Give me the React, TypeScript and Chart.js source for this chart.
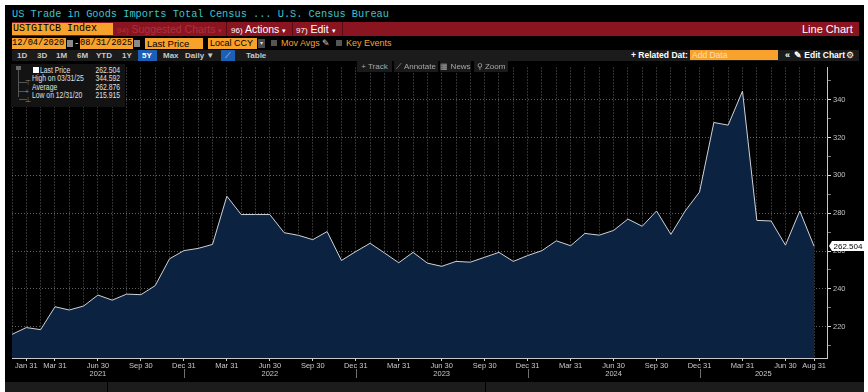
import React, { useEffect, useRef } from 'react';
import { Chart, registerables } from 'chart.js';

Chart.register(...registerables);

// ---------- data ----------
const categories = [
  '2020-12-31',
  '2021-01-31', '2021-02-28', '2021-03-31', '2021-04-30', '2021-05-31', '2021-06-30',
  '2021-07-31', '2021-08-31', '2021-09-30', '2021-10-31', '2021-11-30', '2021-12-31',
  '2022-01-31', '2022-02-28', '2022-03-31', '2022-04-30', '2022-05-31', '2022-06-30',
  '2022-07-31', '2022-08-31', '2022-09-30', '2022-10-31', '2022-11-30', '2022-12-31',
  '2023-01-31', '2023-02-28', '2023-03-31', '2023-04-30', '2023-05-31', '2023-06-30',
  '2023-07-31', '2023-08-31', '2023-09-30', '2023-10-31', '2023-11-30', '2023-12-31',
  '2024-01-31', '2024-02-29', '2024-03-31', '2024-04-30', '2024-05-31', '2024-06-30',
  '2024-07-31', '2024-08-31', '2024-09-30', '2024-10-31', '2024-11-30', '2024-12-31',
  '2025-01-31', '2025-02-28', '2025-03-31', '2025-04-30', '2025-05-31', '2025-06-30',
  '2025-07-31', '2025-08-31',
];

const importValues = [
  215.915,
  219.5, 218.4, 230.5, 228.8, 230.9, 236.7, 234.0, 237.2, 236.9, 241.7, 255.9, 260.2,
  261.4, 263.5, 289.0, 279.3, 279.3, 279.3, 269.7, 268.3, 266.0, 270.3, 255.0, 259.7,
  264.1, 259.0, 253.8, 259.3, 253.6, 251.9, 254.5, 254.1, 256.7, 259.3, 254.5, 257.6,
  260.2, 265.4, 262.8, 269.3, 268.4, 270.9, 276.9, 273.1, 281.2, 268.8, 281.2, 291.2,
  328.0, 326.6, 344.592, 276.2, 275.9, 263.1, 281.2, 262.504,
];

const xTickIndex = [1, 3, 6, 9, 12, 15, 18, 21, 24, 27, 30, 33, 36, 39, 42, 45, 48, 51, 54, 56];
const xTickText = [
  'Jan 31', 'Mar 31', 'Jun 30', 'Sep 30', 'Dec 31',
  'Mar 31', 'Jun 30', 'Sep 30', 'Dec 31',
  'Mar 31', 'Jun 30', 'Sep 30', 'Dec 31',
  'Mar 31', 'Jun 30', 'Sep 30', 'Dec 31',
  'Mar 31', 'Jun 30', 'Aug 31',
];
const yearLabels = ['2021', '2022', '2023', '2024', '2025'];
const yearBoundaryIndex = [12, 24, 36, 48];

const yTicks = [210, 220, 230, 240, 250, 260, 270, 280, 290, 300, 310, 320, 330, 340, 350];
const yLabelTicks = [220, 240, 260, 280, 300, 320, 340];
const yMin = 203.4;
const yMax = 357.1;
const xMaxPad = 56.9;

const legendRows = [
  { label: 'Last Price', value: '262.504' },
  { label: 'High on 03/31/25', value: '344.592' },
  { label: 'Average', value: '262.876' },
  { label: 'Low on 12/31/20', value: '215.915' },
];

// ---------- styling constants ----------
const ORANGE = '#f8a12b';
const AXIS_FONT = '"Liberation Sans", Arial, sans-serif';
const GRID = 'rgba(165,165,165,0.6)';

const axisExtras = {
  id: 'axisExtras',
  afterDraw(chart: any) {
    const { ctx, chartArea } = chart;
    const x = chart.scales.x;
    const y = chart.scales.y;
    ctx.save();
    ctx.strokeStyle = '#707070';
    ctx.lineWidth = 1;
    yearBoundaryIndex.forEach((i) => {
      const px = Math.round(x.getPixelForValue(i)) + 0.5;
      ctx.beginPath();
      ctx.moveTo(px, chartArea.bottom + 11);
      ctx.lineTo(px, chartArea.bottom + 20);
      ctx.stroke();
    });
    ctx.font = `7.5px ${AXIS_FONT}`;
    ctx.fillStyle = '#c8c8c8';
    ctx.textAlign = 'center';
    ctx.textBaseline = 'middle';
    const edges = [x.min, ...yearBoundaryIndex, x.max];
    yearLabels.forEach((lab, k) => {
      const c = (x.getPixelForValue(edges[k]) + x.getPixelForValue(edges[k + 1])) / 2;
      ctx.fillText(lab, c, chartArea.bottom + 15.5);
    });
    const last = importValues[importValues.length - 1];
    const py = Math.round(y.getPixelForValue(last));
    const txt = last.toFixed(3);
    ctx.font = `8px ${AXIS_FONT}`;
    const tw = ctx.measureText(txt).width;
    const bx = chartArea.right + 4;
    ctx.fillStyle = '#ffffff';
    ctx.beginPath();
    ctx.moveTo(bx - 2, py);
    ctx.lineTo(bx + 1, py - 5);
    ctx.lineTo(bx + tw + 5, py - 5);
    ctx.lineTo(bx + tw + 5, py + 5);
    ctx.lineTo(bx + 1, py + 5);
    ctx.closePath();
    ctx.fill();
    ctx.fillStyle = '#000000';
    ctx.textAlign = 'left';
    ctx.fillText(txt, bx + 2.5, py + 0.5);
    ctx.restore();
  },
};

function ChartCanvas() {
  const ref = useRef<HTMLCanvasElement | null>(null);
  useEffect(() => {
    if (!ref.current) return;
    const points = importValues.map((v, i) => ({ x: i, y: v }));
    const chart = new Chart(ref.current, {
      type: 'line',
      data: {
        datasets: [
          {
            data: points,
            borderColor: '#cfd2d6',
            borderWidth: 1,
            backgroundColor: '#0b2241',
            fill: 'start',
            pointRadius: 0,
            tension: 0,
          },
        ],
      },
      options: {
        animation: false,
        responsive: false,
        maintainAspectRatio: false,
        layout: { padding: { left: 7, top: 0, right: 0, bottom: 0 } },
        plugins: { legend: { display: false }, tooltip: { enabled: false } },
        scales: {
          x: {
            type: 'linear',
            min: 0,
            max: xMaxPad,
            z: 1,
            afterBuildTicks: (scale: any) => {
              scale.ticks = categories.map((_, i) => ({ value: i }));
            },
            afterFit: (scale: any) => {
              scale.height = 24;
            },
            grid: {
              color: GRID,
              lineWidth: 1,
              drawTicks: true,
              tickLength: 3,
              tickColor: (c: any) => (xTickIndex.includes(c.tick?.value) ? '#d0d0d0' : 'rgba(0,0,0,0)'),
            },
            border: { display: true, color: '#c8c8c8', width: 1, dash: [1, 2] },
            ticks: {
              autoSkip: false,
              maxRotation: 0,
              minRotation: 0,
              padding: 0,
              color: '#c8c8c8',
              font: { family: AXIS_FONT, size: 7.5 },
              callback: (v: any) => {
                const k = xTickIndex.indexOf(Number(v));
                return k >= 0 ? xTickText[k] : '';
              },
            },
          },
          y: {
            type: 'linear',
            position: 'right',
            min: yMin,
            max: yMax,
            z: 1,
            afterBuildTicks: (scale: any) => {
              scale.ticks = yTicks.map((v) => ({ value: v }));
            },
            afterFit: (scale: any) => {
              scale.width = 37;
            },
            grid: {
              color: (c: any) => (yLabelTicks.includes(c.tick?.value) ? GRID : 'rgba(0,0,0,0)'),
              lineWidth: 1,
              tickLength: 4,
              tickColor: (c: any) => (yLabelTicks.includes(c.tick?.value) ? '#e0e0e0' : '#7a7a7a'),
            },
            border: { display: true, color: '#c8c8c8', width: 1, dash: [1, 2] },
            ticks: {
              padding: 2,
              color: '#c0c0c0',
              font: { family: AXIS_FONT, size: 7.5 },
              callback: (v: any) => (yLabelTicks.includes(Number(v)) ? String(v) : ''),
            },
          },
        },
      } as any,
      plugins: [axisExtras],
    });
    return () => chart.destroy();
  }, []);
  return (
    <canvas
      ref={ref}
      width={859}
      height={321}
      style={{ position: 'absolute', left: 5, top: 61, width: 859, height: 321, display: 'block' }}
    />
  );
}

const abs = (left: number, top: number, extra: React.CSSProperties = {}): React.CSSProperties => ({
  position: 'absolute',
  left,
  top,
  whiteSpace: 'nowrap',
  ...extra,
});

const SANS = '"Liberation Sans", Arial, sans-serif';
const MONO = '"Liberation Mono", "DejaVu Sans Mono", monospace';

export default function App() {
  const rangeBtns: [string, number][] = [
    ['1D', 17], ['3D', 37], ['1M', 56], ['6M', 77], ['YTD', 96], ['1Y', 122], ['Max', 163], ['Daily ▼', 185], ['Table', 246],
  ];
  return (
    <div style={{ position: 'fixed', left: 0, top: 0, width: 868, height: 392, background: '#ffffff', overflow: 'hidden' }}>
      <div style={{ position: 'absolute', left: 5, top: 5, width: 859, height: 387, background: '#000000' }} />
      {/* title */}
      <div style={abs(12, 8, { font: `10.3px ${MONO}`, color: '#3cc3cf', lineHeight: '12px' })}>
        US Trade in Goods Imports Total Census ... U.S. Census Bureau
      </div>
      {/* red bar */}
      <div style={abs(12, 22, { width: 847, height: 14, background: '#8b1421' })} />
      <div style={abs(12, 23, { width: 101, height: 12, background: ORANGE, font: `10px ${MONO}`, color: '#000', lineHeight: '12px', paddingLeft: 1, boxSizing: 'border-box' })}>
        USTGITCB Index
      </div>
      <div style={abs(117, 23, { font: `10.5px ${SANS}`, color: '#b0303c', lineHeight: '12px' })}>
        <span style={{ fontSize: 8 }}>94)</span> Suggested Charts <span style={{ fontSize: 7 }}>▾</span>
      </div>
      <div style={abs(226, 22, { width: 1, height: 14, background: '#5a0c16' })} />
      <div style={abs(231, 23, { font: `10.5px ${SANS}`, color: '#ffffff', lineHeight: '12px' })}>
        <span style={{ fontSize: 8 }}>96)</span> Actions <span style={{ fontSize: 7 }}>▾</span>
      </div>
      <div style={abs(292, 22, { width: 1, height: 14, background: '#5a0c16' })} />
      <div style={abs(296, 23, { font: `10.5px ${SANS}`, color: '#ffffff', lineHeight: '12px' })}>
        <span style={{ fontSize: 8 }}>97)</span> Edit <span style={{ fontSize: 7 }}>▾</span>
      </div>
      <div style={abs(342, 22, { width: 1, height: 14, background: '#5a0c16' })} />
      <div style={abs(802, 23, { font: `11px ${SANS}`, color: '#ffffff', lineHeight: '12px' })}>Line Chart</div>

      {/* row 3 */}
      <div style={abs(12, 38, { width: 54, height: 11, background: ORANGE, font: `8.7px ${MONO}`, color: '#000', lineHeight: '11px' })}>12/04/2020</div>
      <div style={abs(67, 40, { width: 6, height: 7, background: '#8a8a8a' })} />
      <div style={abs(75, 37, { font: `10px ${SANS}`, color: '#d0d0d0' })}>-</div>
      <div style={abs(80, 38, { width: 53, height: 11, background: ORANGE, font: `8.7px ${MONO}`, color: '#000', lineHeight: '11px' })}>08/31/2025</div>
      <div style={abs(134, 40, { width: 6, height: 7, background: '#8a8a8a' })} />
      <div style={abs(145, 38, { width: 58, height: 11, background: ORANGE, font: `9.5px ${SANS}`, color: '#000', lineHeight: '11px', paddingLeft: 2, boxSizing: 'border-box' })}>Last Price</div>
      <div style={abs(208, 38, { width: 49, height: 11, background: ORANGE, font: `9px ${SANS}`, color: '#000', lineHeight: '11px', paddingLeft: 2, boxSizing: 'border-box' })}>Local CCY</div>
      <div style={abs(258, 39, { width: 7, height: 9, background: '#4a4a4a', font: `6px ${SANS}`, color: '#ddd', lineHeight: '9px', textAlign: 'center' })}>▾</div>
      <div style={abs(271, 40, { width: 6, height: 6, background: '#555555' })} />
      <div style={abs(281, 37, { font: `9px ${SANS}`, color: ORANGE, lineHeight: '12px' })}>Mov Avgs</div>
      <div style={abs(322, 37, { font: `9px ${SANS}`, color: '#d8d8d8', lineHeight: '12px' })}>✎</div>
      <div style={abs(336, 40, { width: 6, height: 6, background: '#555555' })} />
      <div style={abs(346, 37, { font: `9px ${SANS}`, color: ORANGE, lineHeight: '12px' })}>Key Events</div>

      {/* row 4 */}
      <div style={abs(12, 50, { width: 847, height: 11, background: '#1b1b1b' })} />
      <div style={abs(138, 50, { width: 19, height: 11, background: '#1c5fb6' })} />
      <div style={abs(221, 50, { width: 14, height: 11, background: '#1c5fb6', font: `8px ${SANS}`, color: '#cfe0ff', lineHeight: '11px', textAlign: 'center' })}>⟋</div>
      {rangeBtns.map(([t, l]) => (
        <div key={t} style={abs(l, 50, { font: `bold 8px ${SANS}`, color: '#c8c8c8', lineHeight: '11px' })}>{t}</div>
      ))}
      <div style={abs(142, 50, { font: `bold 8px ${SANS}`, color: '#ffffff', lineHeight: '11px' })}>5Y</div>
      <div style={abs(631, 50, { font: `bold 8.5px ${SANS}`, color: '#ffffff', lineHeight: '11px' })}>+ Related Dat:</div>
      <div style={abs(690, 50, { width: 88, height: 10, background: ORANGE, font: `8.5px ${SANS}`, color: '#fde2b8', lineHeight: '10px', paddingLeft: 2, boxSizing: 'border-box' })}>Add Data</div>
      <div style={abs(785, 49, { font: `bold 9px ${SANS}`, color: '#ffffff', lineHeight: '12px' })}>«</div>
      <div style={abs(794, 50, { font: `bold 8.5px ${SANS}`, color: '#ffffff', lineHeight: '11px' })}>✎ Edit Chart</div>
      <div style={abs(846, 49, { font: `9px ${SANS}`, color: '#ffffff', lineHeight: '12px' })}>⚙</div>

      <ChartCanvas />

      {/* chart tool buttons */}
      {([['+ Track', 357, 35], ['⟋ Annotate', 394, 44], ['▦ News', 440, 31], ['⚲ Zoom', 474, 34]] as [string, number, number][]).map(([t, l, w]) => (
        <div key={t} style={abs(l, 61, { width: w, height: 11, background: '#1a1a1a', font: `8px ${SANS}`, color: '#a8a8a8', lineHeight: '11px', textAlign: 'center' })}>{t}</div>
      ))}

      {/* legend box */}
      <div style={abs(11, 64, { width: 114, height: 43, background: '#131313' })} />
      <div style={abs(18, 67, { width: 1, height: 30, background: '#555' })} />
      <div style={abs(16, 66, { width: 5, height: 4, background: '#666' })} />
      <div style={abs(33, 67, { width: 6, height: 6, background: '#ffffff' })} />
      {legendRows.map((r, i) => (
        <React.Fragment key={r.label}>
          {i > 0 && <div style={abs(19, 74 + i * 8.3, { width: 8, height: 1, background: '#555' })} />}
          {i > 0 && <div style={abs(25, 70 + i * 8.3, { font: `7px ${SANS}`, color: '#888', lineHeight: '9px' })}>{i === 1 ? '⊤' : i === 2 ? '+' : '⊥'}</div>}
          <div style={abs(i === 0 ? 40 : 32, 66 + i * 8.3, { font: `8.5px ${SANS}`, color: '#e0e0e0', lineHeight: '9px', transform: 'scaleX(0.8)', transformOrigin: 'left center' })}>{r.label}</div>
          <div style={abs(70, 66 + i * 8.3, { width: 50, font: `8.5px ${SANS}`, color: '#e0e0e0', lineHeight: '9px', textAlign: 'right', transform: 'scaleX(0.8)', transformOrigin: 'right center' })}>{r.value}</div>
        </React.Fragment>
      ))}

      {/* bottom strip */}
      <div style={abs(5, 382, { width: 859, height: 10, background: '#1c1c1c' })} />
      <div style={abs(107, 382, { width: 1, height: 10, background: '#000' })} />
      <div style={abs(485, 382, { width: 1, height: 10, background: '#000' })} />
    </div>
  );
}
